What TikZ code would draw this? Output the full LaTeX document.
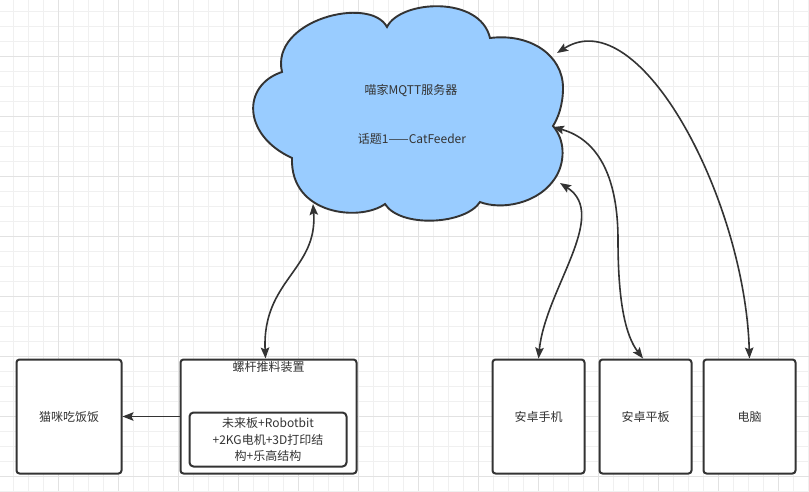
\documentclass[tikz,border=0pt]{standalone}
\usepackage{fontspec}
\setmainfont{Noto Sans CJK SC}
\usetikzlibrary{arrows.meta}
\definecolor{ink}{HTML}{333333}
\definecolor{cloudfill}{HTML}{99CCFF}
\definecolor{gridminor}{HTML}{F0F0F0}
\definecolor{gridmajor}{HTML}{E2E2E2}
\begin{document}
\begin{tikzpicture}[x=1pt,y=-1pt,
  boxstyle/.style={draw=ink, line width=2pt, rounded corners=3pt, fill=white, text=ink,
    font=\fontsize{12}{16.7}\selectfont, align=center, inner sep=0pt},
  lbl/.style={text=ink, font=\fontsize{12}{16.7}\selectfont, inner sep=0pt, align=center},
  twoway/.style={draw=ink, line width=1.6pt, {Stealth[length=11pt,width=8.5pt,inset=2pt]}-{Stealth[length=11pt,width=8.5pt,inset=2pt]}},
  oneway/.style={draw=ink, line width=1.6pt, -{Stealth[length=11pt,width=8.5pt,inset=2pt]}},
  cloudstyle/.style={draw=ink, line width=1.9pt, fill=cloudfill, line join=miter}
]
\useasboundingbox (0,0) rectangle (809,491);
\fill[white] (0,0) rectangle (809,491);
% grid
\foreach \i in {0,...,53} \draw[gridminor, line width=1pt] (13.3+15*\i,0) -- (13.3+15*\i,491);
\foreach \j in {0,...,32} \draw[gridminor, line width=1pt] (0,11.7+15*\j) -- (809,11.7+15*\j);
\foreach \i in {0,...,12} \draw[gridmajor, line width=1pt] (58.3+60*\i,0) -- (58.3+60*\i,491);
\foreach \j in {0,...,7} \draw[gridmajor, line width=1pt] (0,56.7+60*\j) -- (809,56.7+60*\j);

% cloud
\draw[cloudstyle] (282,72) .. controls (270,20) and (370,-5) .. (387,27)
 .. controls (400,0) and (480,-5) .. (490,38)
 .. controls (530,33) and (563,55) .. (563,88)
 .. controls (563,105) and (558,118) .. (553,126)
 .. controls (565,140) and (565,160) .. (557,175)
 .. controls (540,205) and (500,210) .. (480,202)
 .. controls (465,225) and (400,228) .. (385,204)
 .. controls (360,222) and (290,215) .. (292,158)
 .. controls (242,135) and (242,85) .. (282,72) -- cycle;
\node[lbl] (server) at (411,91) {喵家MQTT服务器};
\node[lbl] (topic) at (412,139) {话题1——CatFeeder};

\coordinate (cf) at (313,204);
\coordinate (cph) at (560,183);
\coordinate (ctb) at (553,127);
\coordinate (cpc) at (557,53);

% boxes
\node[boxstyle, minimum width=105pt, minimum height=114pt] (cat) at (69,416.5) {猫咪吃饭饭};
\node[boxstyle, minimum width=176pt, minimum height=114pt] (feed) at (268.5,416.5) {};
\node[lbl] (feedtitle) at (268.5,367) {螺杆推料装置};
\node[boxstyle, rounded corners=4pt, minimum width=157pt, minimum height=54pt] (inner) at (268,439.5) {未来板+Robotbit\\+2KG电机+3D打印结\\构+乐高结构};
\node[boxstyle, minimum width=92pt, minimum height=114pt] (phone) at (538.5,416.5) {安卓手机};
\node[boxstyle, minimum width=92pt, minimum height=114pt] (tablet) at (645.5,416.5) {安卓平板};
\node[boxstyle, minimum width=92pt, minimum height=114pt] (pc) at (749.5,416.5) {电脑};

% connectors
\draw[oneway] (feed.west) -- (cat.east);
\draw[twoway] ([xshift=-3pt]feed.north) .. controls (262,280) and (318,270) .. (cf);
\draw[twoway] (phone.north) .. controls (545,290) and (610,215) .. (cph);
\draw[twoway] ([xshift=-2.5pt]tablet.north) .. controls (625,335) and (618,300) .. (618,240) .. controls (618,180) and (600,140) .. (ctb);
\draw[twoway] (pc.north) .. controls (745,200) and (640,0) .. (cpc);
\end{tikzpicture}
\end{document}
